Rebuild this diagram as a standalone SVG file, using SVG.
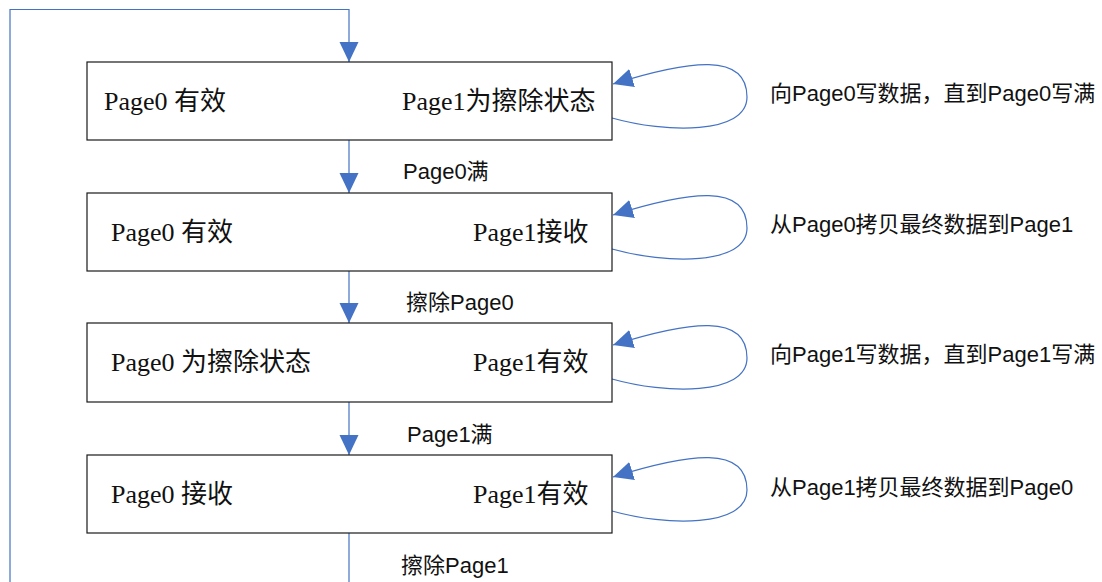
<svg xmlns="http://www.w3.org/2000/svg" width="1102" height="582" viewBox="0 0 1102 582">
<style>
.box{fill:#fff;stroke:#1a1a1a;stroke-width:1.2}
.st{font-family:"Liberation Serif","Noto Sans CJK SC",serif;font-size:26px;fill:#111}
.lb{font-family:"Liberation Sans","Noto Sans CJK SC",sans-serif;font-size:22px;fill:#111}
.cn{fill:none;stroke:#4472C4;stroke-width:1.2}
</style>
<defs>
<marker id="ah" markerUnits="userSpaceOnUse" markerWidth="20" markerHeight="20" refX="20" refY="10" orient="auto">
<path d="M0,0.5 L20,10 L0,19.5 z" fill="#4472C4"/>
</marker>
</defs>
<g id="connectors">
<path class="cn" d="M349,582 L349,533" />
<path class="cn" d="M10,582 L10,9.5 L349,9.5 L349,62" marker-end="url(#ah)"/>
<path class="cn" d="M349,140 L349,193" marker-end="url(#ah)"/>
<path class="cn" d="M349,271 L349,323" marker-end="url(#ah)"/>
<path class="cn" d="M349,402 L349,455" marker-end="url(#ah)"/>
<path class="cn" d="M612,118 C665,133 747,135 747,97 C747,52 690,60 613,84" marker-end="url(#ah)"/>
<path class="cn" d="M612,249 C665,264 747,266 747,228 C747,183 690,191 613,215" marker-end="url(#ah)"/>
<path class="cn" d="M612,379 C665,394 747,396 747,358 C747,313 690,321 613,345" marker-end="url(#ah)"/>
<path class="cn" d="M612,511 C665,526 747,528 747,490 C747,445 690,453 613,477" marker-end="url(#ah)"/>
<text class="lb" x="403" y="179">Page0满</text>
<text class="lb" x="406" y="310">擦除Page0</text>
<text class="lb" x="407" y="442">Page1满</text>
<text class="lb" x="401" y="573">擦除Page1</text>
<text class="lb" x="770" y="101">向Page0写数据，直到Page0写满</text>
<text class="lb" x="770" y="232">从Page0拷贝最终数据到Page1</text>
<text class="lb" x="770" y="362">向Page1写数据，直到Page1写满</text>
<text class="lb" x="770" y="495">从Page1拷贝最终数据到Page0</text>
</g>
<g id="node1">
<rect class="box" x="87" y="62" width="525" height="78"/>
<text class="st" x="104" y="110">Page0 有效</text>
<text class="st" x="402" y="110">Page1为擦除状态</text>
</g>
<g id="node2">
<rect class="box" x="87" y="193" width="525" height="78"/>
<text class="st" x="111" y="241">Page0 有效</text>
<text class="st" x="473" y="241">Page1接收</text>
</g>
<g id="node3">
<rect class="box" x="87" y="323" width="525" height="79"/>
<text class="st" x="111" y="371">Page0 为擦除状态</text>
<text class="st" x="473" y="371">Page1有效</text>
</g>
<g id="node4">
<rect class="box" x="87" y="455" width="525" height="78"/>
<text class="st" x="111" y="503">Page0 接收</text>
<text class="st" x="473" y="503">Page1有效</text>
</g>
</svg>
